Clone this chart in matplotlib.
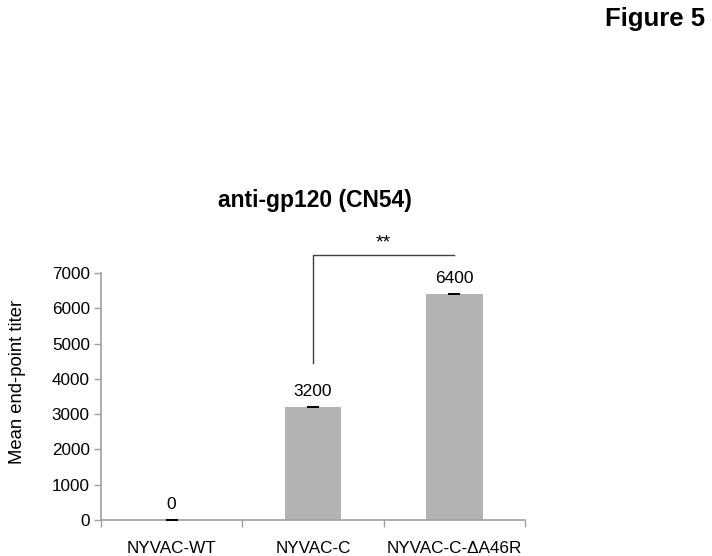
import matplotlib
matplotlib.use("Agg")
import matplotlib.pyplot as plt
import numpy as np

plt.rcParams['font.family'] = ['Liberation Sans', 'DejaVu Sans']

categories = ["NYVAC-WT", "NYVAC-C", "NYVAC-C-\u0394A46R"]
values = [0, 3200, 6400]
errors = [0, 0, 0]
value_labels = ["0", "3200", "6400"]
yticks = [0, 1000, 2000, 3000, 4000, 5000, 6000, 7000]

fig = plt.figure(figsize=(7.12, 5.56), dpi=100)
ax = fig.add_axes([101/712, 1-520/556, 424/712, 247/556])

x = np.arange(len(categories))
ax.bar(x, values, width=0.4, color="#b3b3b3", zorder=2)
ax.errorbar(x, values, yerr=errors, fmt="none", ecolor="black", capsize=4, capthick=1.2, elinewidth=1, zorder=3)

for xi, v, lab in zip(x, values, value_labels):
    ax.text(xi, v + 230, lab, ha="center", va="bottom", fontsize=12.5)

ax.set_xlim(-0.5, 2.5)
ax.set_ylim(0, 7000)
ax.set_yticks(yticks)
ax.set_yticklabels([str(t) for t in yticks], fontsize=12.3)
ax.set_xticks(x)
ax.set_xticklabels(categories, fontsize=12.3)
ax.tick_params(axis="x", which="major", length=0, pad=15)
ax.set_xticks([-0.5, 0.5, 1.5, 2.5], minor=True)
ax.tick_params(axis="x", which="minor", length=5, color="#a0a0a0", width=1, direction="out")
ax.tick_params(axis="y", length=5, color="#a0a0a0", width=1, direction="out", pad=3)

for s in ["top", "right"]:
    ax.spines[s].set_visible(False)
for s in ["left", "bottom"]:
    ax.spines[s].set_color("#a0a0a0")
    ax.spines[s].set_linewidth(1.2)

ax.set_ylabel("Mean end-point titer", fontsize=13.3)
ax.yaxis.set_label_coords(-0.178, 0.559)

# significance bracket
ax.plot([1, 1, 2], [4450, 7500, 7500], color="#404040", lw=1, clip_on=False)
ax.text(1.5, 7620, "**", ha="center", va="bottom", fontsize=14)

fig.text(315/712, 1-200/556, "anti-gp120 (CN54)", ha="center", va="center", fontsize=16.5, fontweight="bold")
fig.text(705/712, 1-19/556, "Figure 5", ha="right", va="center", fontsize=18.5, fontweight="bold")

fig.savefig("out.png", dpi=100)
